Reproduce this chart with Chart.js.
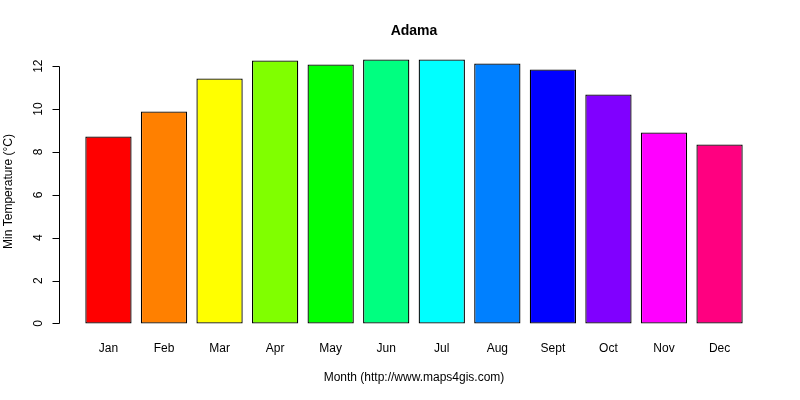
<!DOCTYPE html>
<html>
<head>
<meta charset="utf-8">
<script src="https://cdn.jsdelivr.net/npm/chart.js@4/dist/chart.umd.min.js"></script>
<style>
  html,body{margin:0;padding:0;background:#fff;}
  #wrap{width:800px;height:400px;}
</style>
</head>
<body>
<div id="wrap"><canvas id="temp-chart" width="800" height="400"></canvas></div>
<script>
const months=['Jan','Feb','Mar','Apr','May','Jun','Jul','Aug','Sept','Oct','Nov','Dec'];
const minTemp=[8.72,9.89,11.43,12.27,12.08,12.31,12.31,12.13,11.85,10.68,8.91,8.35];
const barColors=['#FF0000','#FF8000','#FFFF00','#80FF00','#00FF00','#00FF80','#00FFFF','#0080FF','#0000FF','#8000FF','#FF00FF','#FF0080'];
const yTicks=[0,2,4,6,8,10,12];
const chartTitle='Adama';
const xTitle='Month (http://www.maps4gis.com)';
const yTitle='Min Temperature (°C)';

// R barplot layout: bar width 1, space 0.2
const centers=months.map((m,i)=>0.7+1.2*i);
const xmin=0.2, xmax=14.4, xpad=(xmax-xmin)*0.04;
const ytop=Math.max(...minTemp), ypad=ytop*0.04;

const FONT='"Liberation Sans", Arial, sans-serif';

const rAxes={
  id:'rAxes',
  afterDraw(chart){
    const ctx=chart.ctx;
    const x=chart.scales.x, y=chart.scales.y;
    const left=Math.round(chart.chartArea.left)+0.5;
    ctx.save();
    ctx.strokeStyle='#000';
    ctx.lineWidth=1;
    // y axis line + ticks
    ctx.beginPath();
    ctx.moveTo(left,Math.round(y.getPixelForValue(yTicks[0]))+0.5);
    ctx.lineTo(left,Math.round(y.getPixelForValue(yTicks[yTicks.length-1]))+0.5);
    yTicks.forEach(v=>{
      const py=Math.round(y.getPixelForValue(v))+0.5;
      ctx.moveTo(left,py);
      ctx.lineTo(left-7,py);
    });
    ctx.stroke();
    ctx.fillStyle='#000';
    ctx.font='12px '+FONT;
    ctx.textAlign='center';
    ctx.textBaseline='middle';
    yTicks.forEach(v=>{
      ctx.save();
      ctx.translate(left-21,y.getPixelForValue(v));
      ctx.rotate(-Math.PI/2);
      ctx.fillText(String(v),0,0);
      ctx.restore();
    });
    // month labels
    months.forEach((m,i)=>{
      ctx.fillText(m,x.getPixelForValue(centers[i]),349);
    });
    const cx=(chart.chartArea.left+chart.chartArea.right)/2;
    const cy=(chart.chartArea.top+chart.chartArea.bottom)/2;
    ctx.fillText(xTitle,cx,378);
    ctx.save();
    ctx.translate(9,cy);
    ctx.rotate(-Math.PI/2);
    ctx.fillText(yTitle,0,0);
    ctx.restore();
    ctx.font='bold 14px '+FONT;
    ctx.fillText(chartTitle,cx,31);
    ctx.restore();
  }
};

const ctx=document.getElementById('temp-chart').getContext('2d');
const tempChart=new Chart(ctx,{
  type:'bar',
  data:{
    datasets:[{
      label:yTitle,
      data:minTemp.map((v,i)=>({x:centers[i],y:v})),
      backgroundColor:barColors,
      borderColor:'#000',
      borderWidth:1.3,
      borderSkipped:false,
      barPercentage:1,
      categoryPercentage:1/1.2
    }]
  },
  options:{
    responsive:false,
    animation:false,
    devicePixelRatio:1,
    layout:{padding:{left:59,right:31,top:49,bottom:66}},
    plugins:{legend:{display:false},tooltip:{enabled:false},title:{display:false}},
    scales:{
      x:{type:'linear',display:false,offset:false,min:xmin-xpad,max:xmax+xpad},
      y:{display:false,min:-ypad,max:ytop+ypad}
    }
  },
  plugins:[rAxes]
});
</script>
</body>
</html>
